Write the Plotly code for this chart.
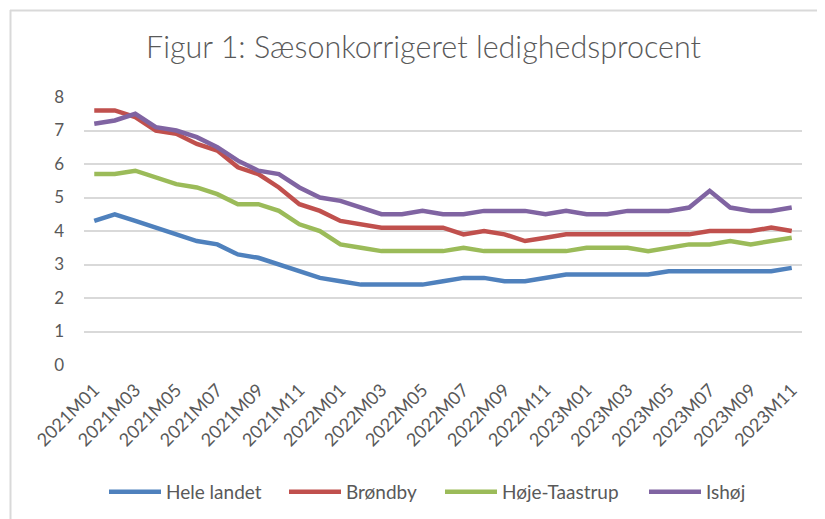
import plotly.graph_objects as go

months = [f"{y}M{m:02d}" for y in (2021, 2022, 2023) for m in range(1, 13)][:35]

hele_landet = [4.3, 4.5, 4.3, 4.1, 3.9, 3.7, 3.6, 3.3, 3.2, 3.0, 2.8, 2.6, 2.5, 2.4, 2.4, 2.4, 2.4, 2.5,
               2.6, 2.6, 2.5, 2.5, 2.6, 2.7, 2.7, 2.7, 2.7, 2.7, 2.8, 2.8, 2.8, 2.8, 2.8, 2.8, 2.9]
broendby = [7.6, 7.6, 7.4, 7.0, 6.9, 6.6, 6.4, 5.9, 5.7, 5.3, 4.8, 4.6, 4.3, 4.2, 4.1, 4.1, 4.1, 4.1,
            3.9, 4.0, 3.9, 3.7, 3.8, 3.9, 3.9, 3.9, 3.9, 3.9, 3.9, 3.9, 4.0, 4.0, 4.0, 4.1, 4.0]
hoeje_taastrup = [5.7, 5.7, 5.8, 5.6, 5.4, 5.3, 5.1, 4.8, 4.8, 4.6, 4.2, 4.0, 3.6, 3.5, 3.4, 3.4, 3.4, 3.4,
                  3.5, 3.4, 3.4, 3.4, 3.4, 3.4, 3.5, 3.5, 3.5, 3.4, 3.5, 3.6, 3.6, 3.7, 3.6, 3.7, 3.8]
ishoej = [7.2, 7.3, 7.5, 7.1, 7.0, 6.8, 6.5, 6.1, 5.8, 5.7, 5.3, 5.0, 4.9, 4.7, 4.5, 4.5, 4.6, 4.5,
          4.5, 4.6, 4.6, 4.6, 4.5, 4.6, 4.5, 4.5, 4.6, 4.6, 4.6, 4.7, 5.2, 4.7, 4.6, 4.6, 4.7]

series_names = ["Hele landet", "Brøndby", "Høje-Taastrup", "Ishøj"]
series_values = [hele_landet, broendby, hoeje_taastrup, ishoej]
colors = ["#4F81BD", "#C0504D", "#9BBB59", "#8064A2"]
tick_labels = months[::2]
y_ticks = [0, 1, 2, 3, 4, 5, 6, 7, 8]

FONT = "Lato"
GRAY = "#595959"

# the page body adds an 8px offset; figure coordinates = screen - 8
OFF = 8
W, H = 825 - OFF, 519 - OFF
ml, mr, mt, mb = 84 - OFF, W - (802 - OFF), 97 - OFF, H - (365 - OFF)
pw, ph = W - ml - mr, H - mt - mb


def px_x(p):
    return (p - OFF - ml) / pw


def px_y(p):
    return (H - mb - (p - OFF)) / ph


legend_keys = ["legend", "legend2", "legend3", "legend4"]
legend_x = [110, 290, 446, 650]  # screen x where each legend line starts

fig = go.Figure()
for name, vals, col, lk in zip(series_names, series_values, colors, legend_keys):
    fig.add_trace(go.Scatter(x=months, y=vals, mode="lines", name=name, legend=lk,
                             line=dict(color=col, width=4.5)))

legend_common = dict(orientation="h", yanchor="middle", xanchor="left", xref="container",
                     yref="container", y=1 - (492 - OFF) / H, bgcolor="rgba(0,0,0,0)",
                     font=dict(family=FONT, size=19, color=GRAY), itemwidth=52)
legends = {}
for lk, lx in zip(legend_keys, legend_x):
    legends[lk] = dict(legend_common, x=(lx - OFF - 6) / W)

fig.update_layout(
    width=W, height=H,
    margin=dict(l=ml, r=mr, t=mt, b=mb, autoexpand=False),
    paper_bgcolor="white", plot_bgcolor="white",
    font=dict(family=FONT, color=GRAY, size=17),
    title=dict(text="Figur 1: Sæsonkorrigeret ledighedsprocent", x=(423.5 - OFF) / W, xanchor="center",
               y=1 - (47 - OFF) / H, yanchor="middle", xref="container", yref="container",
               font=dict(family=FONT, size=30.5, color=GRAY, weight=300)),
    showlegend=True,
    xaxis=dict(type="category", range=[-0.5, 34.5], tickmode="array", tickvals=tick_labels,
               ticktext=tick_labels, tickangle=-45, showgrid=False, zeroline=False,
               showline=False, ticks="", ticklabelstandoff=10,
               tickfont=dict(family=FONT, size=18, color=GRAY)),
    yaxis=dict(range=[0, 8], tickmode="array", tickvals=y_ticks, showgrid=True,
               gridcolor="#D9D9D9", gridwidth=1.5, zeroline=False, showline=False, ticks="",
               ticklabelstandoff=19, tickfont=dict(family=FONT, size=17, color=GRAY)),
    shapes=[
        dict(type="line", xref="paper", yref="paper", x0=px_x(10), x1=px_x(900), y0=px_y(10.5), y1=px_y(10.5),
             line=dict(color="#D9D9D9", width=2)),
        dict(type="line", xref="paper", yref="paper", x0=px_x(10.5), x1=px_x(10.5), y0=px_y(10), y1=px_y(600),
             line=dict(color="#D9D9D9", width=2)),
    ],
    **legends,
)

fig.write_html("out.html")
